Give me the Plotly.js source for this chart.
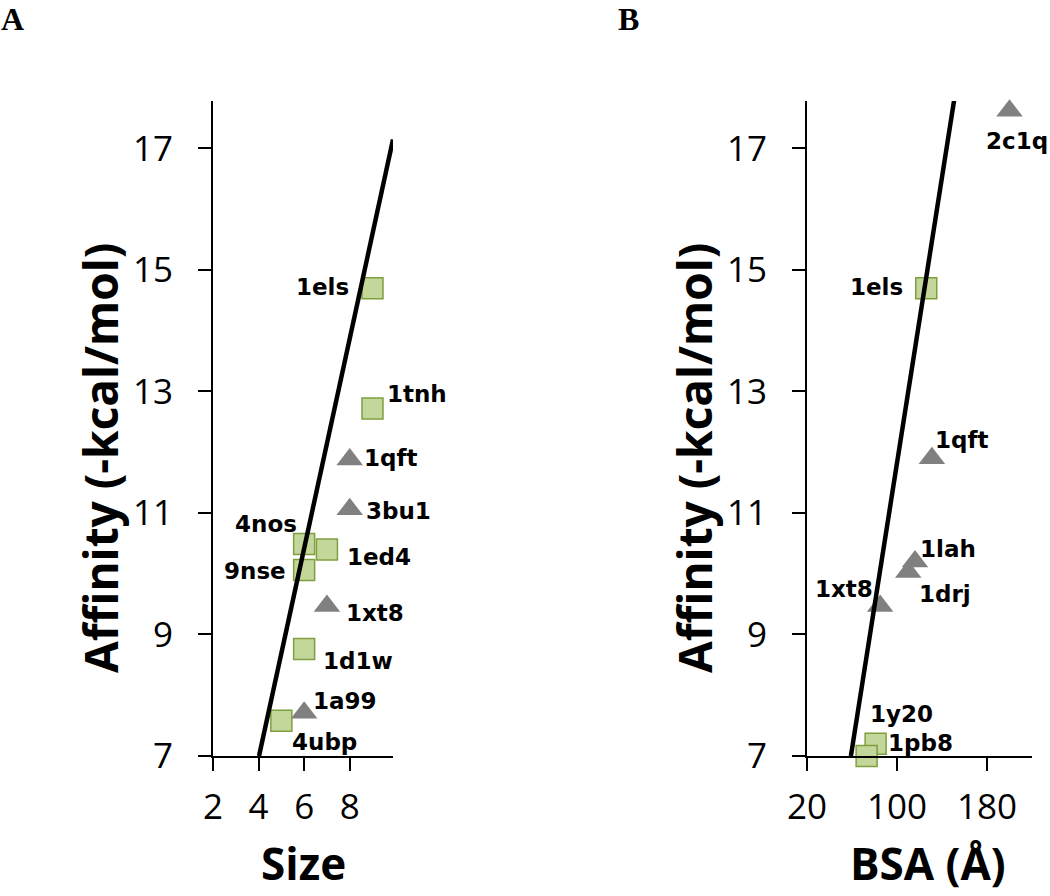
<!DOCTYPE html>
<html>
<head>
<meta charset="utf-8">
<script src="https://cdn.plot.ly/plotly-3.0.1.min.js"></script>
<style>html,body{margin:0;padding:0;background:#fff;}#chart{width:1050px;height:896px;}</style>
</head>
<body>
<div id="chart"></div>
<script>
// ---------- Data ----------
// Panel A: Size vs Affinity
const aSquareNames = ['1els', '1tnh', '4nos', '1ed4', '9nse', '1d1w', '4ubp'];
const aSquareX     = [9, 9, 6, 7, 6, 6, 5];
const aSquareY     = [14.7, 12.72, 10.49, 10.4, 10.06, 8.76, 7.58];
const aTriNames    = ['1qft', '3bu1', '1xt8', '1a99'];
const aTriX        = [8, 8, 7, 6];
const aTriY        = [11.88, 11.06, 9.47, 7.71];
const aFitSlope    = 1.726;
const aFitIntercept = 0.06;
const aFitX        = [4.02, 9.9];

// Panel B: BSA vs Affinity
const bSquareNames = ['1els', '1pb8', '1y20'];
const bSquareX     = [126, 81, 73];
const bSquareY     = [14.7, 7.2, 7.0];
const bTriNames    = ['2c1q', '1qft', '1lah', '1drj', '1xt8'];
const bTriX        = [200, 131, 116, 110, 85];
const bTriY        = [17.62, 11.9, 10.2, 10.03, 9.47];
const bFitSlope    = 0.1176;
const bFitIntercept = 0.062;
const bFitX        = [59, 152];

// Tick values
const yTicks  = [7, 9, 11, 13, 15, 17];
const aXTicks = [2, 4, 6, 8];
const bXTicks = [20, 100, 180];

// ---------- Styling ----------
const W = 1050, H = 896;
const px = v => v / W;
const py = v => 1 - v / H;

// label offsets in pixels (dx right, dy down) relative to each marker
const aSquareOff = [[-50, -1], [45, -14], [-38, -20], [52, 8], [-49, 1], [54, 12], [43, 21]];
const aTriOff    = [[41, -1], [49, 2], [48, 7], [41, -12]];
const bSquareOff = [[-50, -1], [45, -1], [35, -42]];
const bTriOff    = [[7, 30], [30, -18], [33, -13], [37, 22], [-36, -17]];

const squareMarker = {symbol: 'square', size: 21, color: '#c4d79b', line: {color: '#7f9f3f', width: 1.5}};
const triMarker    = {symbol: 'triangle-up', size: 23, color: '#808080', line: {width: 0}};
const fitLine      = {color: '#000000', width: 4.5};

const fitY = (xs, m, b) => xs.map(x => m * x + b);

const traces = [
  {type: 'scatter', mode: 'markers', x: aSquareX, y: aSquareY, xaxis: 'x', yaxis: 'y', marker: squareMarker, cliponaxis: false, showlegend: false, hoverinfo: 'skip'},
  {type: 'scatter', mode: 'markers', x: aTriX, y: aTriY, xaxis: 'x', yaxis: 'y', marker: triMarker, cliponaxis: false, showlegend: false, hoverinfo: 'skip'},
  {type: 'scatter', mode: 'lines', x: aFitX, y: fitY(aFitX, aFitSlope, aFitIntercept), xaxis: 'x', yaxis: 'y', line: fitLine, showlegend: false, hoverinfo: 'skip'},
  {type: 'scatter', mode: 'markers', x: bSquareX, y: bSquareY, xaxis: 'x2', yaxis: 'y2', marker: squareMarker, cliponaxis: false, showlegend: false, hoverinfo: 'skip'},
  {type: 'scatter', mode: 'markers', x: bTriX, y: bTriY, xaxis: 'x2', yaxis: 'y2', marker: triMarker, cliponaxis: false, showlegend: false, hoverinfo: 'skip'},
  {type: 'scatter', mode: 'lines', x: bFitX, y: fitY(bFitX, bFitSlope, bFitIntercept), xaxis: 'x2', yaxis: 'y2', line: fitLine, showlegend: false, hoverinfo: 'skip'}
];

const labelFont = {family: 'DejaVu Sans', size: 23, color: '#000', weight: 700};
function labels(names, xs, ys, offs, xr, yr) {
  return names.map((n, i) => ({
    text: n, x: xs[i], y: ys[i], xref: xr, yref: yr, showarrow: false,
    xanchor: 'center', yanchor: 'middle', xshift: offs[i][0], yshift: -offs[i][1],
    font: labelFont
  }));
}

const tickFont  = {family: 'Open Sans', size: 35, color: '#000'};
const titleFont = {family: 'Open Sans', size: 44, color: '#000', weight: 700};
const yTitleFont = {family: 'Open Sans', size: 46, color: '#000', weight: 700};
const panelFont = {family: 'Liberation Serif', size: 32, color: '#000', weight: 700};

const axisCommon = {
  showline: true, linecolor: '#000', linewidth: 2, mirror: false,
  ticks: 'outside', ticklen: 13, tickwidth: 2, tickcolor: '#000',
  showgrid: false, zeroline: false, tickfont: tickFont, automargin: false, fixedrange: true
};

const yRange = [7, 17.78];
const yDomain = [py(756), py(101)];

const layout = {
  width: W, height: H,
  margin: {l: 0, r: 0, t: 0, b: 0, pad: 0},
  paper_bgcolor: '#fff', plot_bgcolor: '#fff',
  showlegend: false,
  xaxis: Object.assign({}, axisCommon, {domain: [px(213), px(393)], range: [2, 9.9], tickvals: aXTicks, ticktext: aXTicks.map(String), anchor: 'y', ticklabelstandoff: 6}),
  yaxis: Object.assign({}, axisCommon, {domain: yDomain, range: yRange, tickvals: yTicks, ticktext: yTicks.map(String), anchor: 'x', ticklabelstandoff: 18}),
  xaxis2: Object.assign({}, axisCommon, {domain: [px(807), px(1032)], range: [20, 220], tickvals: bXTicks, ticktext: bXTicks.map(String), anchor: 'y2', ticklabelstandoff: 6}),
  yaxis2: Object.assign({}, axisCommon, {domain: yDomain, range: yRange, tickvals: yTicks, ticktext: yTicks.map(String), anchor: 'x2', ticklabelstandoff: 18}),
  annotations: [].concat(
    labels(aSquareNames, aSquareX, aSquareY, aSquareOff, 'x', 'y'),
    labels(aTriNames, aTriX, aTriY, aTriOff, 'x', 'y'),
    labels(bSquareNames, bSquareX, bSquareY, bSquareOff, 'x2', 'y2'),
    labels(bTriNames, bTriX, bTriY, bTriOff, 'x2', 'y2'),
    [
      {text: 'Affinity (-kcal/mol)', xref: 'paper', yref: 'paper', x: px(100), y: py(458), textangle: -90, showarrow: false, xanchor: 'center', yanchor: 'middle', font: yTitleFont},
      {text: 'Affinity (-kcal/mol)', xref: 'paper', yref: 'paper', x: px(694), y: py(458), textangle: -90, showarrow: false, xanchor: 'center', yanchor: 'middle', font: yTitleFont},
      {text: 'Size', xref: 'paper', yref: 'paper', x: px(303), y: py(863), showarrow: false, xanchor: 'center', yanchor: 'middle', font: titleFont},
      {text: 'BSA (Å)', xref: 'paper', yref: 'paper', x: px(928), y: py(863), showarrow: false, xanchor: 'center', yanchor: 'middle', font: titleFont},
      {text: 'A', xref: 'paper', yref: 'paper', x: px(0), y: py(0), showarrow: false, xanchor: 'left', yanchor: 'top', font: panelFont, borderpad: 0},
      {text: 'B', xref: 'paper', yref: 'paper', x: px(617), y: py(0), showarrow: false, xanchor: 'left', yanchor: 'top', font: panelFont, borderpad: 0}
    ]
  )
};

Plotly.newPlot('chart', traces, layout, {staticPlot: true, displayModeBar: false});
</script>
</body>
</html>
